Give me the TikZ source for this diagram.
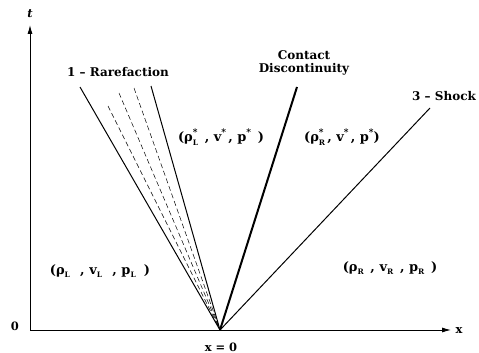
\documentclass[tikz,border=0pt]{standalone}
\usepackage{fontspec}
\setmainfont{DejaVu Serif}
\usetikzlibrary{arrows.meta}
\newcommand{\ssub}[2]{#1\rlap{\raisebox{0.9ex}{\fontsize{9}{9}\selectfont *}}\raisebox{-0.55ex}{\fontsize{7.5}{7.5}\selectfont #2}}
\newcommand{\nsub}[2]{#1\raisebox{-0.55ex}{\fontsize{7.5}{7.5}\selectfont #2}}
\newcommand{\sstar}[1]{#1\raisebox{0.9ex}{\fontsize{9}{9}\selectfont *}}
\begin{document}
\begin{tikzpicture}[x=1pt,y=-1pt,
  lbl/.style={font=\fontsize{12}{13.5}\selectfont\bfseries, align=center, inner sep=1pt},
  st/.style={font=\fontsize{13}{14}\selectfont\bfseries, inner sep=1pt},
  ax/.style={font=\fontsize{11.5}{13}\selectfont\bfseries, inner sep=1pt},
  axis/.style={line width=0.9pt, -{Latex[length=9pt,width=5pt]}},
  wave/.style={line width=1pt},
  fan/.style={line width=0.5pt, dash pattern=on 5pt off 3pt},
  contact/.style={line width=2pt}]
\useasboundingbox (0,0) rectangle (479,353);
\coordinate (O) at (30,330);
\coordinate (tend) at (30,25);
\coordinate (xend) at (451,330);
\coordinate (A) at (220,330);
\coordinate (r1) at (80,87);
\coordinate (r2) at (151,86);
\coordinate (d1) at (108,106);
\coordinate (d2) at (119,93);
\coordinate (d3) at (134,88);
\coordinate (c) at (297,87);
\coordinate (s) at (430,108);
\draw[axis] (O) -- (tend);
\draw[axis] (O) -- (xend);
\node[ax] (tl) at (30,14) {\itshape t};
\node[ax] (xl) at (459,331) {x};
\node[ax] (zl) at (15,326) {0};
\node[ax] (x0) at (221,347) {x = 0};
\draw[wave] (r1) -- (A);
\draw[wave] (r2) -- (A);
\draw[fan] (d1) -- (A);
\draw[fan] (d2) -- (A);
\draw[fan] (d3) -- (A);
\draw[contact] (c) -- (A);
\draw[wave] (s) -- (A);
\node[lbl] (rl) at (118,72) {1 -- Rarefaction};
\node[lbl] (cl) at (304,63) {Contact\\Discontinuity};
\node[lbl, anchor=west] (sl) at (411,96) {3 -- Shock};
\node[st] (sL) at (221,137) {(\ssub{ρ}{L}\, , \sstar{v}\,, \sstar{p}\, )};
\node[st] (sR) at (342,137) {(\ssub{ρ}{R}\,, \sstar{v}\,, \sstar{p})};
\node[st] (L) at (100,271) {(\nsub{ρ}{L}\;\, , \nsub{v}{L}\;\, , \nsub{p}{L}\; )};
\node[st] (R) at (390,268) {(\nsub{ρ}{R}\, , \nsub{v}{R}\, , \nsub{p}{R}\, )};
\end{tikzpicture}
\end{document}
